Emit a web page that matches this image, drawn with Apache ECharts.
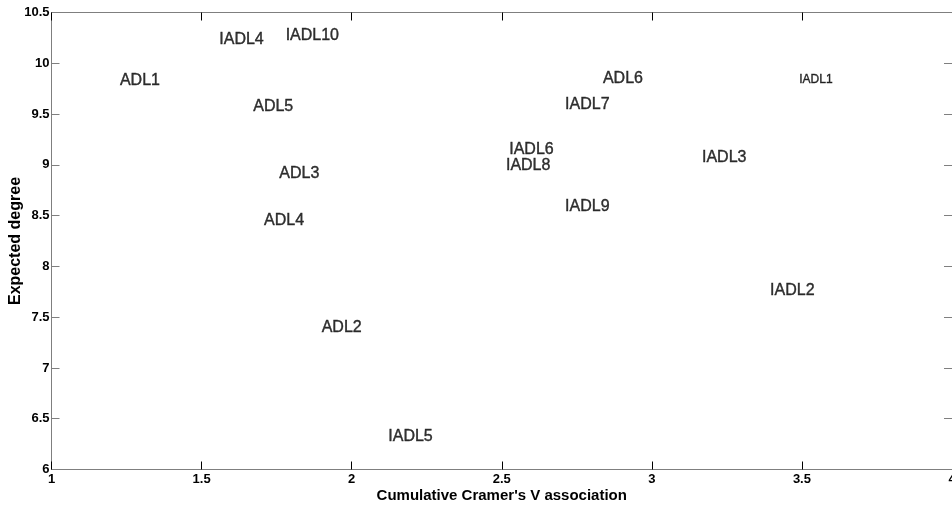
<!DOCTYPE html>
<html>
<head>
<meta charset="utf-8">
<script src="https://cdn.jsdelivr.net/npm/echarts@6/dist/echarts.min.js"></script>
<style>
html,body{margin:0;padding:0;background:#fff;}
#chart{width:952px;height:505px;}
</style>
</head>
<body>
<div id="chart"></div>
<script>
var labels = ['ADL1','IADL4','IADL10','ADL5','ADL3','ADL4','ADL2','IADL5','IADL6','IADL8','IADL7','ADL6','IADL9','IADL3','IADL1','IADL2'];
var xValues = [1.228,1.559,1.780,1.672,1.759,1.708,1.900,2.122,2.525,2.514,2.711,2.837,2.711,3.167,3.491,3.394];
var yValues = [9.826,10.236,10.269,9.572,8.910,8.450,7.396,6.323,9.153,8.992,9.589,9.852,8.588,9.074,9.835,7.761];
var xTicks = [1,1.5,2,2.5,3,3.5,4];
var yTicks = [6,6.5,7,7.5,8,8.5,9,9.5,10,10.5];
var xTitle = "Cumulative Cramer's V association";
var yTitle = 'Expected degree';
var smallLabels = ['IADL1'];

var FONT = 'Liberation Sans, Arial, Helvetica, sans-serif';
var points = labels.map(function(n, i){
  var item = {name: n, value: [xValues[i], yValues[i]]};
  if (smallLabels.indexOf(n) >= 0) item.label = {fontSize: 12};
  return item;
});

var lineCol = '#7f7f7f';
function tickFmt(v){ return String(v); }
var chart = echarts.init(document.getElementById('chart'), null, {renderer:'canvas'});
chart.setOption({
  animation: false,
  backgroundColor: '#ffffff',
  grid: {left: 51.5, right: 0, top: 12.5, bottom: 35.5, containLabel: false, outerBoundsMode: 'none'},
  xAxis: [{
    type: 'value', position: 'bottom', min: xTicks[0], max: xTicks[xTicks.length-1], interval: 0.5,
    name: xTitle, nameLocation: 'middle', nameGap: 19, nameMoveOverlap: false,
    nameTextStyle: {fontFamily: FONT, fontSize: 15, fontWeight: 'bold', color: '#000'},
    axisLine: {show: true, onZero: false, lineStyle: {color: lineCol, width: 1}},
    axisTick: {show: true, inside: true, length: 8, lineStyle: {color: '#000'}},
    axisLabel: {show: true, margin: 3, fontFamily: FONT, fontSize: 13, fontWeight: 'bold', color: '#000', formatter: tickFmt},
    splitLine: {show: false}
  },{
    type: 'value', position: 'top', min: xTicks[0], max: xTicks[xTicks.length-1], interval: 0.5,
    axisLine: {show: true, onZero: false, lineStyle: {color: lineCol, width: 1}},
    axisTick: {show: true, inside: true, length: 8, lineStyle: {color: '#000'}},
    axisLabel: {show: false}, splitLine: {show: false}
  }],
  yAxis: [{
    type: 'value', position: 'left', min: yTicks[0], max: yTicks[yTicks.length-1], interval: 0.5,
    name: yTitle, nameLocation: 'middle', nameGap: 28, nameRotate: 90, nameMoveOverlap: false,
    nameTextStyle: {fontFamily: FONT, fontSize: 16, fontWeight: 'bold', color: '#000'},
    axisLine: {show: true, onZero: false, lineStyle: {color: lineCol, width: 1}},
    axisTick: {show: true, inside: true, length: 8, lineStyle: {color: lineCol}},
    axisLabel: {show: true, margin: 2, fontFamily: FONT, fontSize: 13, fontWeight: 'bold', color: '#000', formatter: tickFmt},
    splitLine: {show: false}
  },{
    type: 'value', position: 'right', min: yTicks[0], max: yTicks[yTicks.length-1], interval: 0.5,
    axisLine: {show: false, onZero: false},
    axisTick: {show: true, inside: true, length: 8, lineStyle: {color: lineCol}},
    axisLabel: {show: false}, splitLine: {show: false}
  }],
  series: [{
    type: 'scatter', xAxisIndex: 0, yAxisIndex: 0,
    symbolSize: 0, data: points,
    label: {show: true, position: 'right', distance: 0, formatter: '{b}',
      fontFamily: FONT, fontSize: 16, color: '#000', textBorderColor: '#000', textBorderWidth: 0.4,
      verticalAlign: 'middle', align: 'left'},
    emphasis: {disabled: true}
  }]
});
</script>
</body>
</html>
